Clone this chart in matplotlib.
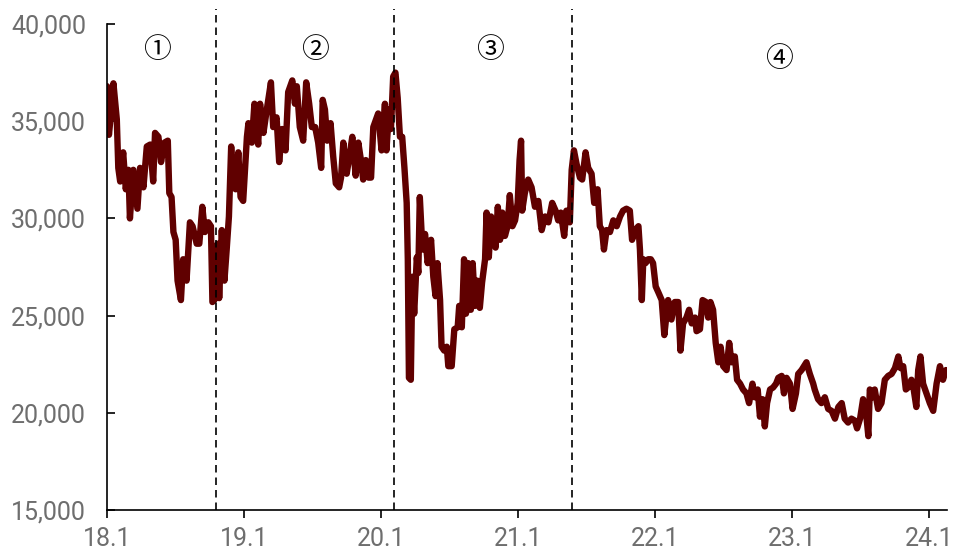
import pandas as pd
import matplotlib
matplotlib.use("Agg")
import matplotlib.pyplot as plt
from matplotlib.ticker import FuncFormatter

# Series: days since 2018-01-01 and index level
start = pd.Timestamp("2018-01-01")
day_offsets = [
    0, 5, 11, 17, 26, 30, 35, 43, 50, 57, 61, 70, 81, 88, 97, 106, 115, 123, 128, 137,
    144, 153, 162, 166, 172, 177, 183, 188, 197, 203, 212, 221, 228, 239, 246, 254, 261, 270, 277, 281,
    286, 291, 295, 299, 306, 313, 319, 325, 331, 337, 343, 350, 356, 363, 373, 377,
    386, 393, 403, 408, 417, 426, 437, 443, 452, 459, 467, 476, 483, 494, 501, 506, 514, 523, 531, 539,
    546, 555, 563, 571, 575, 581, 587, 596, 603, 610, 619, 624, 630, 639, 648, 654, 663, 670, 677, 683,
    690, 697, 704, 710, 723, 732, 741, 745, 752, 757, 763, 769, 775, 781, 787, 793, 799, 802, 805, 810,
    814, 819, 826, 830, 834, 841, 848, 855, 864, 870, 876, 881, 888, 892, 899, 906, 910, 919, 926, 935,
    939, 946, 952, 957, 963, 970, 975, 981, 987, 994, 1000, 1008, 1012, 1018, 1024, 1030, 1036, 1042, 1048, 1054,
    1061, 1068, 1074, 1081, 1088, 1095, 1100, 1104, 1107, 1114, 1123, 1132, 1141, 1150, 1159, 1168, 1177, 1187, 1196, 1203,
    1210, 1219, 1225, 1234, 1239, 1245, 1252, 1261, 1267, 1276, 1283, 1292, 1299, 1308, 1314, 1320, 1325, 1332, 1341, 1350,
    1359, 1368, 1376, 1385, 1394, 1400, 1408, 1417, 1421, 1426, 1430, 1436, 1443, 1450, 1456, 1463, 1470, 1479, 1486, 1496,
    1505, 1514, 1523, 1529, 1536, 1545, 1552, 1559, 1568, 1572, 1581, 1588, 1597, 1603, 1609, 1616, 1623, 1630, 1636, 1643,
    1652, 1659, 1665, 1674, 1680, 1688, 1696, 1705, 1712, 1721, 1727, 1735, 1741, 1748, 1754, 1760, 1768, 1776, 1784, 1790,
    1799, 1805, 1812, 1821, 1828, 1837, 1843, 1852, 1865, 1874, 1883, 1887, 1896, 1905, 1914, 1923, 1932, 1941, 1950, 1959,
    1967, 1976, 1985, 1994, 2000, 2008, 2016, 2024, 2030, 2034, 2041, 2047, 2056, 2065, 2074, 2083, 2092, 2101, 2110, 2116,
    2123, 2130, 2136, 2145, 2151, 2158, 2163, 2169, 2176, 2185, 2194, 2203, 2212, 2221, 2229, 2237,
]
values = [
    36800, 34300, 35500, 36950, 35100, 32600, 31900, 33400, 31500, 32500, 30000, 32500, 30500, 32600, 31600, 33700, 33800, 31900, 34400, 34200,
    32900, 33900, 34000, 31300, 31100, 29300, 28900, 26800, 25800, 27900, 26800, 29800, 29600, 28700, 28700, 30600, 29300, 29800, 29600, 25700,
    25800, 28400, 28700, 25900, 29400, 26800, 28400, 30100, 33700, 31600, 31500, 33400, 31100, 30900, 34200, 34900,
    33900, 35900, 33800, 35900, 34400, 35600, 37000, 34700, 35200, 32900, 34600, 33500, 36500, 37100, 35900, 36800, 34700, 34000, 37000, 35900,
    34700, 34700, 33900, 32600, 36100, 35600, 34000, 34900, 33200, 31800, 31600, 32100, 33900, 32300, 33400, 34200, 32200, 33900, 33000, 32000,
    33000, 32100, 32100, 34700, 35400, 33500, 35900, 33500, 35600, 34600, 37300, 37500, 36200, 34200, 34200, 32600, 30800, 27900, 21800, 21700,
    27000, 25100, 28000, 27200, 31100, 28400, 29200, 27700, 28900, 27000, 26000, 27700, 25800, 23400, 23200, 23400, 22400, 22400, 24300, 24400,
    25500, 24400, 27900, 25100, 27700, 25300, 27700, 25500, 26800, 25400, 26700, 27900, 30300, 28000, 30100, 29300, 28500, 30600, 28900, 30300,
    29100, 29600, 31200, 29600, 29900, 30800, 33000, 34000, 30400, 31300, 32000, 31600, 30600, 30900, 29400, 30100, 29800, 30800, 30400, 29900,
    30300, 29100, 30400, 29800, 32500, 33500, 32800, 32100, 32000, 33400, 32600, 32300, 30800, 31500, 29600, 29400, 28400, 29400, 29300, 29900,
    29600, 30100, 30400, 30500, 30400, 28900, 29400, 29600, 28400, 25800, 27900, 27700, 27900, 27900, 27700, 26500, 26200, 25800, 24000, 25800,
    24800, 25700, 25700, 23200, 24600, 24900, 25300, 24600, 24900, 24200, 24300, 25800, 25700, 24900, 25700, 25300, 23600, 22600, 23400, 22400,
    22200, 23600, 22600, 22900, 21700, 21500, 21200, 21000, 20500, 21500, 20800, 21200, 19800, 20700, 19300, 20500, 21200, 21300, 21500, 21800,
    21900, 21000, 21800, 21500, 20200, 21000, 22000, 22200, 22600, 22000, 21500, 21200, 20700, 20500, 20800, 20200, 20100, 19700, 20300, 20500,
    19700, 19500, 19700, 19600, 19200, 19700, 20700, 20000, 18800, 21200, 20800, 21200, 20200, 20500, 21700, 21900, 22000, 22300, 22900, 22300,
    22400, 21200, 21300, 21700, 21200, 20300, 22200, 22900, 21500, 21000, 20500, 20100, 21500, 22400, 21700, 22200,
]
assert len(day_offsets) == len(values), (len(day_offsets), len(values))

# Phase boundaries and phase markers
split_dates = ["2018-10-19", "2020-02-05", "2021-05-24"]
phase_labels = ["①", "②", "③", "④"]
phase_label_dates = ["2018-05-14", "2019-07-09", "2020-10-18", "2022-11-27"]
phase_label_y = [38650, 38650, 38650, 38200]

tick_years = [2018, 2019, 2020, 2021, 2022, 2023, 2024]
tick_labels = ["18.1", "19.1", "20.1", "21.1", "22.1", "23.1", "24.1"]

dates = start + pd.to_timedelta(day_offsets, unit="D")

fig = plt.figure(figsize=(9.67, 5.5), dpi=100)
ax = fig.add_axes([0.1107, 0.0727, 0.8687, 0.8836])

ax.plot(dates, values, color="#600000", lw=4.6,
        solid_joinstyle="round", solid_capstyle="round")

for d in split_dates:
    ax.axvline(pd.Timestamp(d), ymin=0, ymax=1.03, color="black", lw=1.2,
               dashes=(4.5, 3), clip_on=False)

for s, d, y in zip(phase_labels, phase_label_dates, phase_label_y):
    ax.text(pd.Timestamp(d), y, s, ha="center", va="center", fontsize=20,
            family=["Noto Sans CJK SC", "DejaVu Sans"], color="black")

ax.set_ylim(15000, 40000)
ax.set_yticks(range(15000, 40001, 5000))
ax.yaxis.set_major_formatter(FuncFormatter(lambda v, p: f"{v:,.0f}"))

ax.set_xlim(start, pd.Timestamp("2024-02-19"))
ax.set_xticks([pd.Timestamp(f"{y}-01-01") for y in tick_years])
ax.set_xticklabels(tick_labels)

for side in ["top", "right"]:
    ax.spines[side].set_visible(False)
for side in ["left", "bottom"]:
    ax.spines[side].set_linewidth(1.2)
    ax.spines[side].set_color("black")

ax.tick_params(axis="y", direction="in", length=6, width=1.2, pad=15,
               labelsize=18, labelcolor="#6e6e6e")
ax.tick_params(axis="x", direction="out", length=6, width=1.2, pad=6,
               labelsize=18, labelcolor="#6e6e6e")
for lbl in ax.get_xticklabels() + ax.get_yticklabels():
    lbl.set_family("Roboto")

fig.savefig("out.png", dpi=100)
